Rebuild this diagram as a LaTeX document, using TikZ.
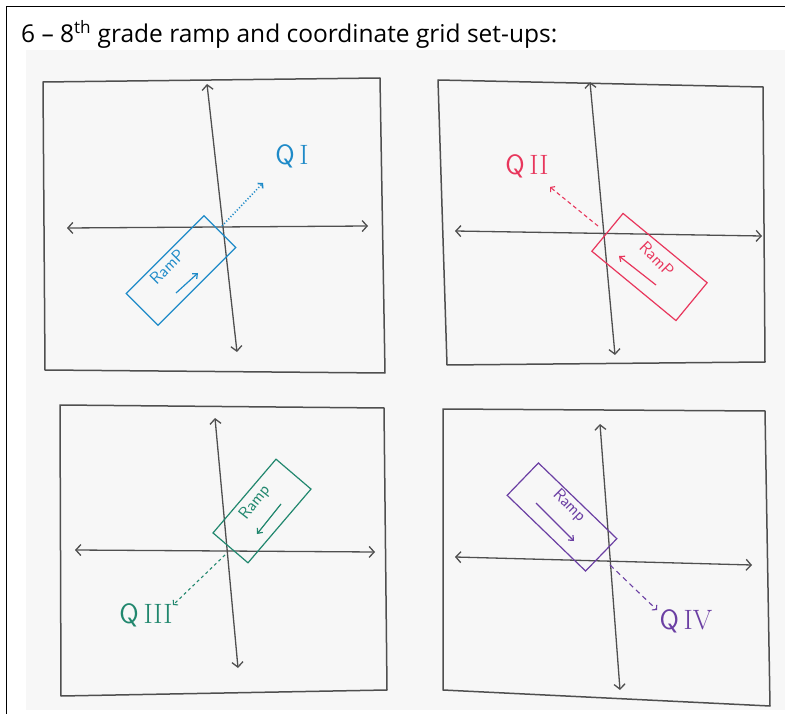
\documentclass[tikz,border=0pt]{standalone}
\usepackage{fontspec}
\usetikzlibrary{arrows.meta}
\newfontfamily\titlefont{Open Sans}
\definecolor{paper}{HTML}{F7F7F7}
\definecolor{pencil}{HTML}{4F4F4F}
\definecolor{qblue}{HTML}{1E8AC8}
\definecolor{qred}{HTML}{E8365C}
\definecolor{qteal}{HTML}{21876E}
\definecolor{qpurple}{HTML}{6B3FA3}
\tikzset{
  boxline/.style={draw=pencil, line width=1.5pt, line cap=round, line join=round},
  axisline/.style={draw=pencil, line width=1.3pt, line cap=round, {Straight Barb[length=5pt,width=11pt]}-{Straight Barb[length=5pt,width=11pt]}},
  rampbox/.style={draw=#1, line width=1.2pt, rectangle, inner sep=0pt},
  ramptext/.style={text=#1, font=\sffamily\fontsize{17}{17}\selectfont, inner sep=0pt},
  ramparrow/.style={draw=#1, line width=1.2pt, -{Straight Barb[length=4pt,width=7pt]}},
  quad/.style={draw=#1, line width=1.1pt, -{Straight Barb[length=3pt,width=7pt]}},
  qlabel/.style={text=#1, font=\fontsize{28}{28}\selectfont, inner sep=0pt},
}
\begin{document}
\begin{tikzpicture}[x=1pt,y=-1pt]
\useasboundingbox (0,0) rectangle (785,714);
\fill[white] (0,0) rectangle (785,714);
\fill[paper] (26,50) rectangle (785,710);
\draw[line width=1pt] (6,714) -- (6,7) -- (785,7);
\node[anchor=base west, inner sep=0pt] (title) at (21,43)
  {\titlefont\fontsize{24.5}{24.5}\selectfont 6 – 8\textsuperscript{th} grade ramp and coordinate grid set-ups:};

% ---------- Box 1 (top left) ----------
\draw[boxline] (43,82) -- (380,78) -- (385,373) -- (45,370) -- cycle;
\coordinate (h1l) at (67,228); \coordinate (h1r) at (368,226);
\coordinate (v1t) at (207,84);  \coordinate (v1b) at (237,352);
\draw[axisline] (h1l) -- (h1r);
\draw[axisline] (v1t) -- (v1b);
\node[rampbox=qblue, rotate=45, minimum width=110pt, minimum height=45pt] (r1) at (181,270.5) {};
\node[ramptext=qblue, rotate=45] (t1) at (167,267) {RamP};
\coordinate (a1s) at (176,293); \coordinate (a1e) at (198,273);
\draw[ramparrow=qblue] (a1s) -- (a1e);
\coordinate (o1) at (222,226); \coordinate (d1) at (263,183);
\draw[quad=qblue, dotted, line width=1.6pt] (o1) -- (d1);
\node[qlabel=qblue] (q1) at (292,156) {\textsf{Q}\,I};

% ---------- Box 2 (top right) ----------
\draw[boxline] (438,80) -- (763,87) -- (765,362) -- (447,365) -- cycle;
\coordinate (h2l) at (455,231); \coordinate (h2r) at (762,236);
\coordinate (v2t) at (590,82);  \coordinate (v2b) at (615,355);
\draw[axisline] (h2l) -- (h2r);
\draw[axisline] (v2t) -- (v2b);
\node[rampbox=qred, rotate=-39.5, minimum width=109pt, minimum height=49pt] (r2) at (649.5,267) {};
\node[ramptext=qred, rotate=-45] (t2) at (657,259) {RamP};
\coordinate (a2s) at (656,285); \coordinate (a2e) at (619,256);
\draw[ramparrow=qred] (a2s) -- (a2e);
\coordinate (o2) at (598,226); \coordinate (d2) at (550,187);
\draw[quad=qred, dash pattern=on 4pt off 3pt] (o2) -- (d2);
\node[qlabel=qred] (q2) at (527,166) {\textsf{Q}\,II};

% ---------- Box 3 (bottom left) ----------
\draw[boxline] (60,405) -- (384,408) -- (387,690) -- (61,696) -- cycle;
\coordinate (h3l) at (75,550); \coordinate (h3r) at (375,552);
\coordinate (v3t) at (215,418);  \coordinate (v3b) at (238,668);
\draw[axisline] (h3l) -- (h3r);
\draw[axisline] (v3t) -- (v3b);
\node[rampbox=qteal, rotate=49.5, minimum width=97pt, minimum height=46pt] (r3) at (262,511) {};
\node[ramptext=qteal, rotate=52] (t3) at (255,503) {Ramp};
\coordinate (a3s) at (281,504); \coordinate (a3e) at (257,534);
\draw[ramparrow=qteal] (a3s) -- (a3e);
\coordinate (o3) at (225,555); \coordinate (d3) at (173,605);
\draw[quad=qteal, dash pattern=on 3pt off 3pt] (o3) -- (d3);
\node[qlabel=qteal] (q3) at (146,615) {\textsf{Q}\,III};

% ---------- Box 4 (bottom right) ----------
\draw[boxline] (443,409) -- (765,411) -- (770,706) -- (443,690) -- cycle;
\coordinate (h4l) at (455,557); \coordinate (h4r) at (752,565);
\coordinate (v4t) at (600,424);  \coordinate (v4b) at (620,690);
\draw[axisline] (h4l) -- (h4r);
\draw[axisline] (v4t) -- (v4b);
\node[rampbox=qpurple, rotate=-44, minimum width=109pt, minimum height=45pt] (r4) at (562,517) {};
\node[ramptext=qpurple, rotate=-45] (t4) at (569,506) {Ramp};
\coordinate (a4s) at (536,503); \coordinate (a4e) at (574,541);
\draw[ramparrow=qpurple] (a4s) -- (a4e);
\coordinate (o4) at (610,565); \coordinate (d4) at (657,610);
\draw[quad=qpurple, dash pattern=on 5pt off 4pt] (o4) -- (d4);
\node[qlabel=qpurple] (q4) at (686,621) {\textsf{Q}\,IV};
\end{tikzpicture}
\end{document}
